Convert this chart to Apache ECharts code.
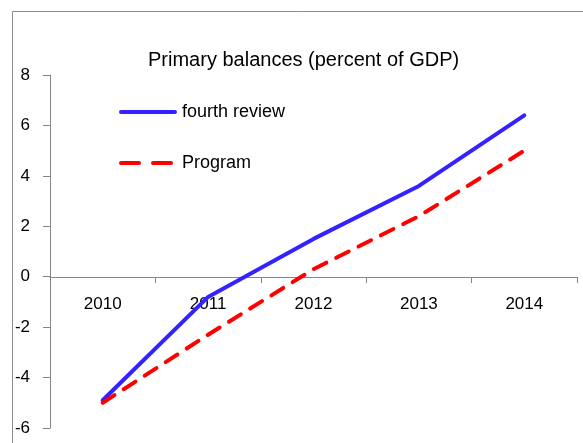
<!DOCTYPE html>
<html>
<head>
<meta charset="utf-8">
<script src="https://cdn.jsdelivr.net/npm/echarts@6/dist/echarts.min.js"></script>
<style>
html,body{margin:0;padding:0;background:#fff;}
#box{width:583px;height:443px;}
</style>
</head>
<body>
<div id="box"></div>
<script>
// data
var years = ['2010', '2011', '2012', '2013', '2014'];
var fourthReview = [-4.9, -0.8, 1.5, 3.6, 6.4];
var program = [-5.0, -2.3, 0.3, 2.4, 5.0];
var yTicks = [-6, -4, -2, 0, 2, 4, 6, 8];

var font = 'Liberation Sans';
var option = {
    animation: false,
    title: {
        text: 'Primary balances (percent of GDP)',
        left: 143,
        top: 45,
        textStyle: {fontFamily: font, fontSize: 20, fontWeight: 'normal', color: '#000'}
    },
    legend: {
        orient: 'vertical',
        left: 114,
        top: 98,
        itemWidth: 54,
        itemHeight: 18,
        itemGap: 33,
        itemStyle: {opacity: 0},
        lineStyle: {width: 4, cap: 'round'},
        textStyle: {fontFamily: font, fontSize: 18, color: '#000', padding: [0, 0, 0, 2]},
        data: [
            {name: 'fourth review'},
            {name: 'Program', lineStyle: {type: [18, 14]}}
        ]
    },
    graphic: [{
        type: 'rect',
        shape: {x: 12.5, y: 11.5, width: 700, height: 600},
        style: {fill: 'none', stroke: '#8c8c8c', lineWidth: 1},
        silent: true
    }],
    grid: {left: 50, right: 6, top: 75, bottom: 15, containLabel: false, outerBoundsMode: 'none'},
    xAxis: {
        type: 'category',
        data: years,
        offset: -151,
        axisLine: {onZero: false, lineStyle: {color: '#858585', width: 1}},
        axisTick: {show: true, length: 6, lineStyle: {color: '#858585'}},
        axisLabel: {margin: 19, fontFamily: font, fontSize: 17, color: '#000'},
        splitLine: {show: false}
    },
    yAxis: {
        type: 'value',
        min: yTicks[0],
        max: yTicks[yTicks.length - 1],
        interval: 2,
        axisLine: {show: true, lineStyle: {color: '#858585', width: 1}},
        axisTick: {show: true, length: 7, lineStyle: {color: '#858585'}},
        axisLabel: {margin: 20, fontFamily: font, fontSize: 17, color: '#000'},
        splitLine: {show: false}
    },
    series: [
        {
            name: 'fourth review',
            type: 'line',
            data: fourthReview,
            symbol: 'none',
            lineStyle: {color: '#3322ff', width: 4, cap: 'round', join: 'round'},
            itemStyle: {color: '#3322ff'}
        },
        {
            name: 'Program',
            type: 'line',
            data: program,
            symbol: 'none',
            lineStyle: {color: '#ff0000', width: 4, type: [14, 11], cap: 'round', join: 'round'},
            itemStyle: {color: '#ff0000'}
        }
    ]
};
var chart = echarts.init(document.getElementById('box'));
chart.setOption(option);
</script>
</body>
</html>
